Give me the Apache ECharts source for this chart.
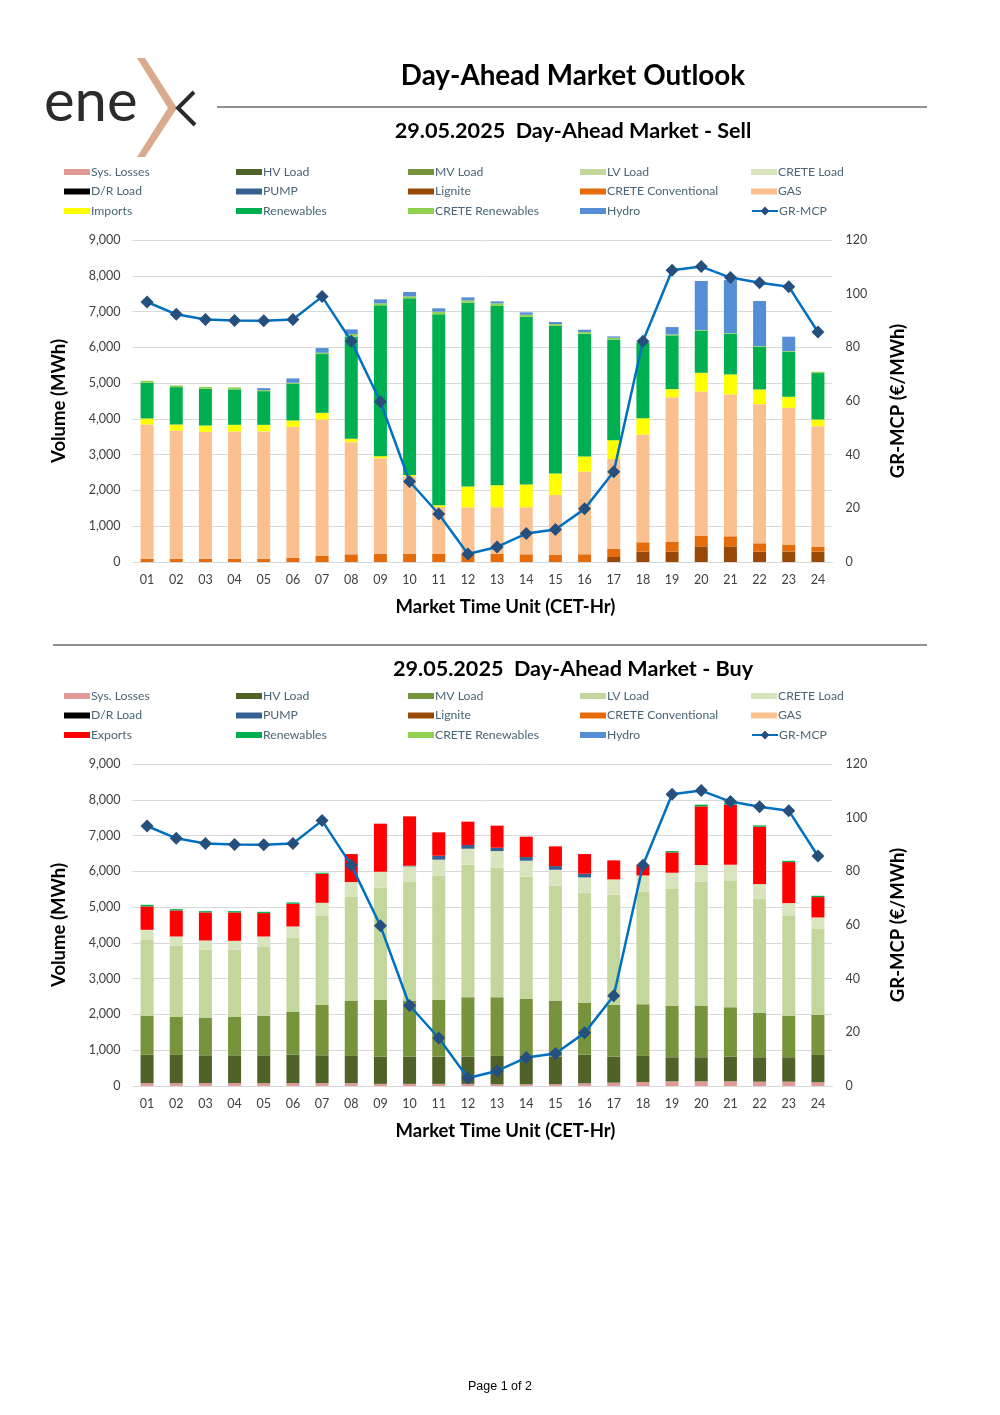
<!DOCTYPE html>
<html><head><meta charset="utf-8">
<script src="https://cdn.jsdelivr.net/npm/echarts@6/dist/echarts.min.js"></script>
<style>html,body{margin:0;padding:0;background:#fff}#c{width:1000px;height:1415px}</style>
</head><body><div id="c"></div>
<script>
const hours = ['01','02','03','04','05','06','07','08','09','10','11','12','13','14','15','16','17','18','19','20','21','22','23','24'];
const volumeTicks = [0,1000,2000,3000,4000,5000,6000,7000,8000,9000];
const priceTicks = [0,20,40,60,80,100,120];

// Sell side (MWh)
const sellLignite    = [0,0,0,0,0,0,0,0,0,0,0,0,0,0,0,0,140,289,289,438,438,289,289,289];
const sellCreteConv  = [90,90,90,90,90,121,177,215,233,233,224,224,233,215,205,215,233,261,280,299,280,233,187,140];
const sellGas        = [3753,3585,3548,3557,3557,3657,3806,3134,2668,2164,1315,1306,1297,1315,1670,2313,2509,3013,4039,4030,3965,3890,3834,3368];
const sellImports    = [168,168,177,187,187,177,187,93,56,38,47,578,616,634,597,420,523,457,224,522,560,411,308,186];
const sellRenewables = [998,1045,1026,989,942,1026,1642,2855,4217,4934,5336,5140,5009,4692,4132,3433,2817,2109,1502,1175,1138,1194,1259,1297];
const sellCreteRen   = [56,47,56,56,28,28,37,74,55,56,74,65,74,56,47,46,47,28,28,19,18,18,19,37];
const sellHydro      = [0,0,0,0,56,122,131,131,112,122,94,84,56,66,56,66,37,0,205,1371,1481,1260,401,0];

// Buy side (MWh)
const buySysLosses   = [80,80,80,80,80,80,80,80,60,60,60,60,50,50,56,75,93,112,131,131,131,121,121,103];
const buyHV          = [797,788,778,778,778,797,778,760,761,761,761,761,790,790,765,802,728,728,672,672,690,682,682,765];
const buyMV          = [1091,1063,1054,1073,1110,1194,1409,1548,1586,1567,1586,1660,1641,1595,1567,1455,1446,1445,1436,1436,1380,1240,1165,1119];
const buyLV          = [2118,1987,1894,1875,1931,2080,2490,2901,3134,3312,3470,3704,3620,3414,3218,3069,3078,3144,3265,3470,3527,3200,2799,2407];
const buyCreteLoad   = [280,261,261,252,280,308,364,411,448,438,448,447,466,448,439,429,429,457,457,466,457,401,345,317];
const buyPump        = [0,0,0,0,0,0,0,0,0,19,112,103,93,102,102,103,0,0,0,0,0,0,0,0];
const buyExports     = [653,728,784,793,653,634,812,783,1343,1380,653,653,616,569,551,550,532,298,569,1642,1679,1604,1147,569];
const buyRenewables  = [46,37,37,37,37,38,28,0,0,0,0,0,0,0,0,0,0,0,37,47,46,37,35,37];

// GR-MCP (€/MWh)
const mcp = [96.9,92.3,90.4,90.0,89.9,90.4,98.9,82.3,59.7,30.0,17.9,3.0,5.6,10.6,12.1,19.8,33.6,82.3,108.7,110.1,106.0,104.1,102.6,85.7];

const sellLegend = ['Sys. Losses','HV Load','MV Load','LV Load','CRETE Load','D/R Load','PUMP','Lignite','CRETE Conventional','GAS','Imports','Renewables','CRETE Renewables','Hydro','GR-MCP'];
const buyLegend  = ['Sys. Losses','HV Load','MV Load','LV Load','CRETE Load','D/R Load','PUMP','Lignite','CRETE Conventional','GAS','Exports','Renewables','CRETE Renewables','Hydro','GR-MCP'];

const colors = {
  'Sys. Losses':'#E09B99','HV Load':'#4F6228','MV Load':'#77933C','LV Load':'#C3D69B','CRETE Load':'#D7E4BD',
  'D/R Load':'#000000','PUMP':'#376092','Lignite':'#984807','CRETE Conventional':'#E46C0A','GAS':'#FAC090',
  'Imports':'#FFFF00','Exports':'#FF0000','Renewables':'#00B050','CRETE Renewables':'#92D050','Hydro':'#558ED5','GR-MCP':'#0070C0'
};

const FONT = 'Lato';
const sellData = {'Lignite':sellLignite,'CRETE Conventional':sellCreteConv,'GAS':sellGas,'Imports':sellImports,'Renewables':sellRenewables,'CRETE Renewables':sellCreteRen,'Hydro':sellHydro};
const buyData = {'Sys. Losses':buySysLosses,'HV Load':buyHV,'MV Load':buyMV,'LV Load':buyLV,'CRETE Load':buyCreteLoad,'PUMP':buyPump,'Exports':buyExports,'Renewables':buyRenewables};

const gridTops = [240, 764];
const legendTops = [172, 696];
const colX = [64, 236, 408, 580, 751];

function barSeries(names, dataMap, gi){
  return names.filter(n => n !== 'GR-MCP').map(n => ({
    name:n, type:'bar', stack:'s'+gi, xAxisIndex:gi, yAxisIndex:gi*2,
    barWidth:13, data:dataMap[n] || [], itemStyle:{color:colors[n]}, emphasis:{disabled:true}
  }));
}
function lineSeries(gi){
  return {name:'GR-MCP', type:'line', xAxisIndex:gi, yAxisIndex:gi*2+1, data:mcp, symbol:'diamond', symbolSize:13,
    z:10, lineStyle:{color:'#0070C0', width:2.5}, itemStyle:{color:'#264F7E'}, emphasis:{disabled:true}};
}
function legends(names, gi){
  return names.map((n,i)=>({
    data:[n], left:colX[i%5], top:legendTops[gi] + Math.floor(i/5)*19.5 - 7, padding:0,
    itemWidth:26, itemHeight: n==='GR-MCP'?11:6, itemGap:0, selectedMode:false,
    textStyle:{fontFamily:FONT, fontSize:12.2, color:'#4A6575', lineHeight:14, padding:[0,0,0,-4]},
    icon: n==='GR-MCP'? undefined : 'rect'
  }));
}

const nameStyle = {fontFamily:FONT, fontSize:18.5, fontWeight:'bold', color:'#000'};
const xAxes = [0,1].map(gi => ({
  type:'category', gridIndex:gi, data:hours,
  axisTick:{show:false}, axisLine:{show:true, lineStyle:{color:'#D9D9D9'}},
  axisLabel:{fontFamily:FONT, fontSize:12.5, color:'#404040', margin:11},
  name:'Market Time Unit (CET-Hr)', nameLocation:'middle', nameGap:36,
  nameTextStyle:Object.assign({padding:[0,0,0,46]}, nameStyle)
}));
const yAxes = [];
[0,1].forEach(gi => {
  yAxes.push({type:'value', gridIndex:gi, min:volumeTicks[0], max:volumeTicks[volumeTicks.length-1], interval:1000,
    axisLabel:{fontFamily:FONT, fontSize:12.5, color:'#404040', margin:12, formatter:v=>v.toLocaleString('en-US')},
    splitLine:{lineStyle:{color:'#D9D9D9'}}, axisLine:{show:false}, axisTick:{show:false},
    name:'Volume (MWh)', nameLocation:'middle', nameGap:64, nameTextStyle:nameStyle});
  yAxes.push({type:'value', gridIndex:gi, position:'right', min:priceTicks[0], max:priceTicks[priceTicks.length-1], interval:20,
    axisLabel:{fontFamily:FONT, fontSize:12.5, color:'#404040', margin:13},
    splitLine:{show:false}, axisLine:{show:false}, axisTick:{show:false},
    name:'GR-MCP (€/MWh)', nameLocation:'middle', nameGap:56, nameRotate:90, nameTextStyle:nameStyle});
});

const option = {
  animation:false,
  backgroundColor:'#fff',
  grid: gridTops.map(t => ({left:132.5, width:700, top:t, height:322})),
  xAxis:xAxes, yAxis:yAxes,
  legend:[...legends(sellLegend,0), ...legends(buyLegend,1)],
  series:[...barSeries(sellLegend, sellData, 0), lineSeries(0), ...barSeries(buyLegend, buyData, 1), lineSeries(1)],
  graphic:[
    {type:'text', left:44, top:73, style:{text:'ene', font:'normal 58px Lato', fill:'#2B2B2B'}},
    {type:'polygon', shape:{points:[[137,58],[145,58],[177,108],[145,157],[137,157],[168,108]]}, style:{fill:'#D9AA8E'}},
    {type:'polyline', shape:{points:[[194,92],[178,108],[195,125]]}, style:{stroke:'#2B2B2B', lineWidth:4, fill:null}},
    {type:'text', x:573, y:76, style:{text:'Day-Ahead Market Outlook', font:'bold 27.8px Lato', fill:'#000', align:'center', verticalAlign:'middle'}},
    {type:'line', shape:{x1:217, y1:107, x2:927, y2:107}, style:{stroke:'#222', lineWidth:1.2}},
    {type:'text', x:573, y:131, style:{text:'29.05.2025  Day-Ahead Market - Sell', font:'bold 21.6px Lato', fill:'#000', align:'center', verticalAlign:'middle'}},
    {type:'line', shape:{x1:53, y1:645, x2:927, y2:645}, style:{stroke:'#222', lineWidth:1.2}},
    {type:'text', x:573, y:669, style:{text:'29.05.2025  Day-Ahead Market - Buy', font:'bold 21.6px Lato', fill:'#000', align:'center', verticalAlign:'middle'}},
    {type:'text', x:500, y:1387, style:{text:'Page 1 of 2', font:'12.5px "Liberation Sans"', fill:'#000', align:'center', verticalAlign:'middle'}}
  ]
};
const chart = echarts.init(document.getElementById('c'), null, {renderer:'canvas'});
chart.setOption(option);
</script></body></html>
